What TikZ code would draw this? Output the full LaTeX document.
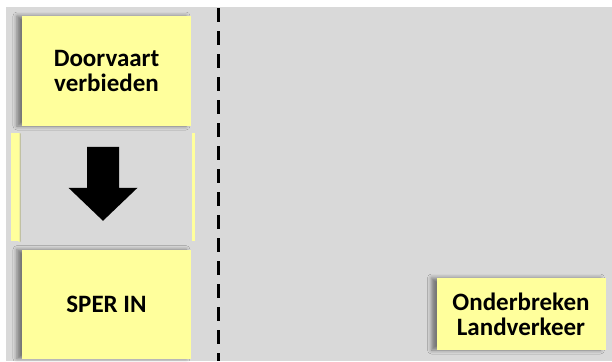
\documentclass[tikz,border=0pt]{standalone}
\usepackage{fontspec}
\setmainfont{Carlito}
\usepackage{xcolor}
\usetikzlibrary{positioning, shadows.blur}
\definecolor{noteYellow}{HTML}{FFFF9C}
\definecolor{panelGray}{HTML}{D9D9D9}

\begin{document}
\begin{tikzpicture}[x=0.5pt, y=-0.5pt,
    note/.style={fill=noteYellow, minimum width=84.5pt, minimum height=55pt,
        inner sep=0pt, align=center, font=\bfseries\fontsize{12.5}{12.5}\selectfont,
        blur shadow={shadow xshift=-2.5pt, shadow yshift=0pt,
            shadow blur radius=2pt, shadow opacity=45}}]
    \useasboundingbox (0,0) rectangle (612,361);
    \fill[panelGray] (6,7) rectangle (612,361);
    % left column
    \node[note] (verbieden) at (106.5,71) {Doorvaart\\verbieden};
    \node[fill=panelGray, minimum width=92pt, minimum height=53.5pt, inner sep=0pt,
        below=3.5pt of verbieden.south, anchor=north, xshift=-1.75pt] (bar) {};
    \node[note, below=4pt of bar.south, anchor=north, xshift=1.75pt, minimum height=54.5pt] (sperin) {SPER IN};
    % yellow edges of the middle bar
    \fill[noteYellow] (bar.north west) rectangle ([xshift=4pt]bar.south west);
    \shade[left color=noteYellow, right color=black!35] ([xshift=4pt]bar.north west) rectangle ([xshift=5pt]bar.south west);
    \fill[noteYellow] ([xshift=-1.5pt]bar.north east) rectangle (bar.south east);
    \fill[shift={(bar.center)}] (-16,-40.5) -- (16,-40.5) -- (16,0.5) -- (34.5,0.5)
        -- (0,33.5) -- (-34.5,0.5) -- (-16,0.5) -- cycle;
    % separator
    \coordinate (sepTop) at (218,8);
    \coordinate (sepBot) at (218,361);
    \draw[line width=1.5pt, dash pattern=on 7pt off 4.5pt] (sepTop) -- (sepBot);
    % right side
    \node[note, minimum height=36pt] (landverkeer) at (521,314) {Onderbreken\\Landverkeer};
\end{tikzpicture}
\end{document}
